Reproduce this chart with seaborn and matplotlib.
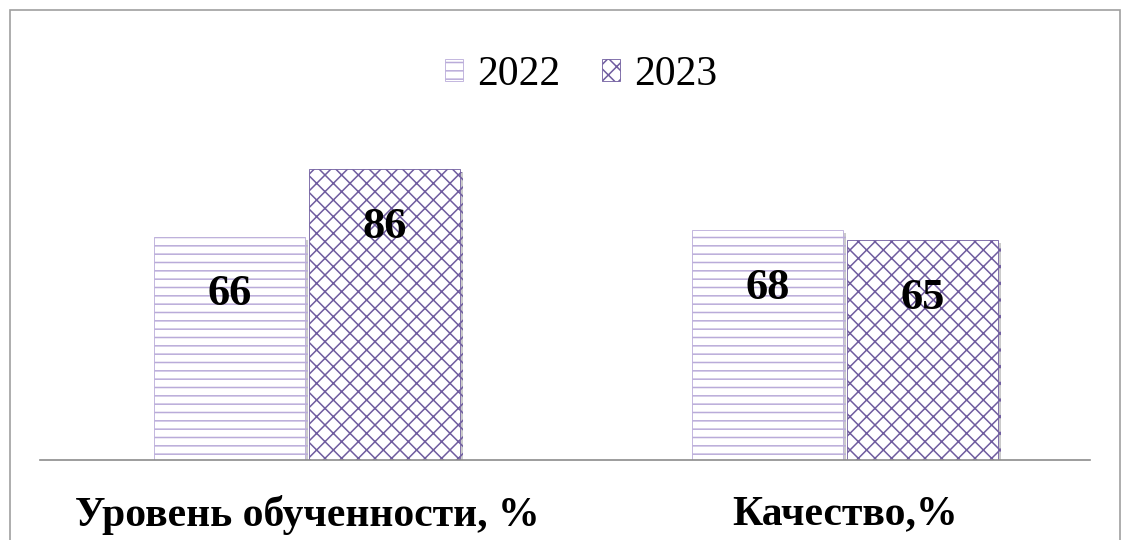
import pandas as pd
import seaborn as sns
from matplotlib import pyplot as plt
from matplotlib.patches import Patch, Rectangle
from matplotlib import patheffects as pe

categories = ["Уровень обученности, %", "Качество,%"]
years = ["2022", "2023"]
values_2022 = [66, 68]
values_2023 = [86, 65]

hatches = {"2022": "--", "2023": "xx"}
hatch_colors = {"2022": "#b9abd9", "2023": "#6f5c9f"}

df = pd.DataFrame({
    "cat": categories * 2,
    "year": [years[0]] * 2 + [years[1]] * 2,
    "val": values_2022 + values_2023,
})

sns.set_style("white")
plt.rcParams["font.family"] = ["Liberation Serif", "DejaVu Serif"]
plt.rcParams["text.color"] = "black"
plt.rcParams["xtick.color"] = "black"
plt.rcParams["hatch.linewidth"] = 1.1

fig = plt.figure(figsize=(11.31, 5.4), dpi=100)
ax = fig.add_axes([0.0354, 0.148, 0.9283, 0.626])

sns.barplot(data=df, x="cat", y="val", hue="year", palette=["white", "white"],
            width=0.576, gap=0.026, legend=False, ax=ax)

shadow = [pe.SimplePatchShadow(offset=(2, -2), shadow_rgbFace="#999999", alpha=0.5), pe.Normal()]
for cont, yr in zip(ax.containers, years):
    for bar, v in zip(cont.patches, cont.datavalues):
        bar.set_hatch(hatches[yr])
        bar.set_edgecolor(hatch_colors[yr])
        bar.set_linewidth(0.6)
        bar.set_path_effects(shadow)
        ax.text(bar.get_x() + bar.get_width() / 2, v - 17, f"{v:g}",
                ha="center", va="center", fontsize=32, fontweight="bold",
                color="black")

ax.set_ylim(0, 100)
ax.set_xlim(-0.496, 1.455)
ax.set_xlabel("")
ax.set_ylabel("")
ax.set_yticks([])
for s in ["left", "right", "top"]:
    ax.spines[s].set_visible(False)
ax.spines["bottom"].set_color("#8c8c8c")
ax.spines["bottom"].set_linewidth(1.2)
ax.tick_params(axis="x", length=0, pad=25, labelcolor="black")
for lab in ax.get_xticklabels():
    lab.set_fontsize(30)
    lab.set_fontweight("bold")

handles = [Patch(facecolor="white", edgecolor=hatch_colors[y], hatch=hatches[y], lw=0.6) for y in years]
fig.legend(handles, years, loc="center", bbox_to_anchor=(0.514, 0.862), ncol=2,
           frameon=False, fontsize=30, handlelength=0.42, handleheight=0.42,
           handletextpad=0.35, columnspacing=1.0, labelcolor="black")

fig.patches.append(Rectangle((10 / 1131, -0.1), 1110 / 1131, 1.1 - 10 / 540,
                             transform=fig.transFigure, fill=False,
                             edgecolor="#a0a0a0", lw=1.2))

fig.savefig("out.png", dpi=100)
